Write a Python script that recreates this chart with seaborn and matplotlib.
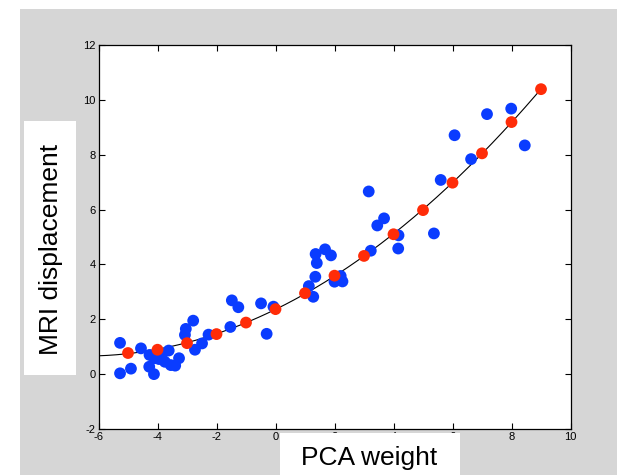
import numpy as np
import pandas as pd
import matplotlib
matplotlib.use("Agg")
import matplotlib.pyplot as plt
from matplotlib.patches import Rectangle
from matplotlib import font_manager
import seaborn as sns

# Measured samples (blue)
meas_x = [-5.27, -5.27, -4.90, -4.56, -4.27, -4.28, -4.12, -4.10, -3.95, -3.85,
          -3.75, -3.62, -3.55, -3.40, -3.27, -3.07, -3.04, -2.79, -2.73, -2.49,
          -2.27, -1.53, -1.48, -1.26, -0.49, -0.30, -0.07, 1.13, 1.28, 1.35,
          1.36, 1.40, 1.68, 1.88, 2.00, 2.21, 2.27, 3.16, 3.23, 3.45,
          3.68, 4.17, 4.16, 5.37, 5.60, 6.07, 6.63, 7.17, 7.99, 8.45]
meas_y = [1.14, 0.03, 0.20, 0.94, 0.70, 0.27, 0.00, 0.58, 0.55, 0.72,
          0.45, 0.86, 0.33, 0.31, 0.58, 1.43, 1.65, 1.95, 0.89, 1.12,
          1.44, 1.72, 2.69, 2.44, 2.58, 1.47, 2.46, 3.21, 2.82, 3.55,
          4.38, 4.05, 4.55, 4.33, 3.37, 3.58, 3.38, 6.66, 4.50, 5.42,
          5.68, 5.06, 4.58, 5.13, 7.08, 8.71, 7.84, 9.48, 9.68, 8.34]

# Model predictions (red)
model_x = [-5, -4, -3, -2, -1, 0, 1, 2, 3, 4, 5, 6, 7, 8, 9]
model_y = [0.77, 0.89, 1.13, 1.46, 1.88, 2.37, 2.95, 3.59, 4.31, 5.10,
           5.98, 6.98, 8.05, 9.19, 10.39]

x_ticks = [-6, -4, -2, 0, 2, 4, 6, 8, 10]
y_ticks = [-2, 0, 2, 4, 6, 8, 10, 12]

x_label = "PCA weight"
y_label = "MRI displacement"

meas = pd.DataFrame({"x": meas_x, "y": meas_y})
model = pd.DataFrame({"x": model_x, "y": model_y})

# smooth curve through the model points
coef = np.polyfit(model["x"], model["y"], 3)
cx = np.linspace(-6, 9, 200)
curve = pd.DataFrame({"x": cx, "y": np.polyval(coef, cx)})

sns.set_theme(style="ticks")
installed = {f.name for f in font_manager.fontManager.ttflist}
tick_family = ["Liberation Sans Narrow"] if "Liberation Sans Narrow" in installed else ["Liberation Sans"]
plt.rcParams["font.family"] = ["Liberation Sans", "DejaVu Sans"]

W, H = 617, 475
fig = plt.figure(figsize=(W / 100, H / 100), dpi=100)
fig.patch.set_facecolor("white")

def fx(px):
    return px / W

def fy(py):
    return 1 - py / H

# grey window background
fig.patches.append(Rectangle((fx(20), 0), fx(W) - fx(20), fy(9), transform=fig.transFigure,
                             facecolor="#d6d6d6", edgecolor="none", zorder=-10))

ax = fig.add_axes([fx(98.5), fy(429), fx(570.5) - fx(98.5), fy(45) - fy(429)])
ax.set_facecolor("white")

sns.lineplot(data=curve, x="x", y="y", ax=ax, color="black", linewidth=0.8, zorder=2)
sns.scatterplot(data=meas, x="x", y="y", ax=ax, color="#0a3cff", s=72,
                edgecolor="none", linewidth=0, zorder=3)
sns.scatterplot(data=model, x="x", y="y", ax=ax, color="#ff2c08", s=72,
                edgecolor="none", linewidth=0, zorder=4)

ax.set_xlim(-6, 10)
ax.set_ylim(-2, 12)
ax.set_xticks(x_ticks)
ax.set_yticks(y_ticks)
ax.set_xticklabels([str(t) for t in x_ticks], family=tick_family, fontsize=8)
ax.set_yticklabels([str(t) for t in y_ticks], family=tick_family, fontsize=8)
ax.set_xlabel("")
ax.set_ylabel("")
ax.tick_params(direction="in", length=4, width=0.8, color="black",
               top=True, right=True, pad=2, labelcolor="black")
for sp in ax.spines.values():
    sp.set_visible(True)
    sp.set_color("black")
    sp.set_linewidth(0.9)

# white label panels
fig.patches.append(Rectangle((fx(280), 0), fx(460) - fx(280), fy(433), transform=fig.transFigure,
                             facecolor="white", edgecolor="none", zorder=5))
fig.patches.append(Rectangle((fx(24), fy(375)), fx(76) - fx(24), fy(121) - fy(375),
                             transform=fig.transFigure, facecolor="white", edgecolor="none", zorder=5))

fig.text(fx(369), fy(458), x_label, fontsize=19, ha="center", va="center",
         color="black", zorder=6)
fig.text(fx(51), fy(249), y_label, fontsize=19, ha="center", va="center",
         rotation=90, color="black", zorder=6)

fig.savefig("out.png", dpi=100)
